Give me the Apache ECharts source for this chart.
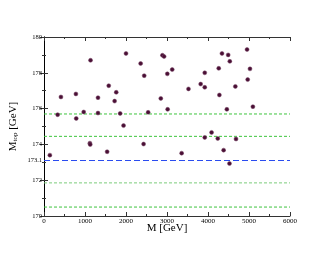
<!DOCTYPE html>
<html>
<head>
<meta charset="utf-8">
<script src="https://cdn.jsdelivr.net/npm/echarts@6/dist/echarts.min.js"></script>
<style>html,body{margin:0;padding:0;background:#fff}#c{width:327px;height:253px}</style>
</head>
<body>
<div id="c"></div>
<script>
const massM = [143,333,413,778,786,968,1119,1127,1135,1317,1317,1540,1579,1722,1762,1857,1940,2000,2357,2429,2444,2540,2849,2889,2929,3008,3016,3127,3357,3524,3821,3921,3921,3921,4087,4238,4262,4278,4341,4381,4460,4492,4524,4532,4667,4683,4952,4968,5024,5095];
const massTop = [173.40,175.66,176.65,176.82,175.45,175.81,174.07,173.99,178.70,176.61,175.75,173.59,177.28,176.42,176.91,175.73,175.05,179.08,178.52,174.02,177.84,175.79,176.57,178.98,178.91,177.94,175.96,178.18,173.51,177.10,177.37,178.00,177.19,174.39,174.67,174.33,178.25,176.76,179.08,173.68,175.96,179.00,172.93,178.64,177.24,174.30,179.30,177.62,178.22,176.11];
const centralValue = 173.1;
const greenLines = [175.7, 174.45, 170.5];
const paleGreenLines = [171.85];
const xRange = [0, 6000];
const yTickLabels = [170, 172, 173.1, 174, 176, 178, 180];
const xTickLabels = [0, 1000, 2000, 3000, 4000, 5000, 6000];

const points = massM.map((m, i) => [m, massTop[i]]);
const serif = '"Liberation Serif","DejaVu Serif",serif';
const axisCol = '#333';

function hLine(v, color, dash, width) {
  return {
    type: 'line', xAxisIndex: 0, yAxisIndex: 0, silent: true,
    data: xRange.map(x => [x, v]), symbol: 'none',
    lineStyle: {color: color, type: dash, width: width, opacity: 1},
    emphasis: {disabled: true}, z: 2
  };
}

const lineSeries = [];
greenLines.forEach(v => lineSeries.push(hLine(v, '#3ec43e', [3, 2], 1)));
paleGreenLines.forEach(v => lineSeries.push(hLine(v, '#7ccc7c', [3, 2], 1)));
lineSeries.push(hLine(centralValue, '#2a4cf0', [6, 3], 1.2));

const chart = echarts.init(document.getElementById('c'), null, {renderer: 'canvas'});
chart.setOption({
  animation: false,
  backgroundColor: '#fff',
  grid: {left: 38, right: 37, top: 37, bottom: 37, containLabel: false},
  xAxis: [{
    type: 'value', min: 0, max: 6000, interval: 1000, position: 'bottom',
    name: 'M [GeV]', nameLocation: 'middle', nameGap: 7, nameMoveOverlap: false,
    nameTextStyle: {fontFamily: serif, fontSize: 11, color: '#000'},
    axisLine: {lineStyle: {color: axisCol, width: 1}},
    axisTick: {inside: true, length: 4, lineStyle: {color: axisCol}},
    minorTick: {show: true, splitNumber: 2, length: 2, lineStyle: {color: axisCol}},
    axisLabel: {margin: 2, fontFamily: serif, fontSize: 7, color: '#000',
      customValues: xTickLabels, formatter: v => String(v)},
    splitLine: {show: false}
  }, {
    type: 'value', min: 0, max: 6000, interval: 1000, position: 'top',
    axisLine: {lineStyle: {color: axisCol, width: 1}},
    axisTick: {inside: true, length: 4, lineStyle: {color: axisCol}},
    minorTick: {show: true, splitNumber: 2, length: 2, lineStyle: {color: axisCol}},
    axisLabel: {show: false}, splitLine: {show: false}
  }],
  yAxis: [{
    type: 'value', min: 170, max: 180, interval: 2, position: 'left',
    name: 'M{s|top} [GeV]', nameLocation: 'middle', nameGap: 25, nameRotate: 90, nameMoveOverlap: false,
    nameTextStyle: {fontFamily: serif, fontSize: 11, color: '#000',
      rich: {s: {fontFamily: serif, fontSize: 7, verticalAlign: 'bottom', padding: [4, 0, 0, 0]}}},
    axisLine: {lineStyle: {color: axisCol, width: 1}},
    axisTick: {inside: true, length: 4, lineStyle: {color: axisCol}},
    minorTick: {show: true, splitNumber: 2, length: 2, lineStyle: {color: axisCol}},
    axisLabel: {margin: 2, fontFamily: serif, fontSize: 6.5, color: '#000',
      customValues: yTickLabels, formatter: v => String(v)},
    splitLine: {show: false}
  }, {
    type: 'value', min: 170, max: 180, interval: 2, position: 'right',
    axisLine: {lineStyle: {color: '#000', width: 1}},
    axisTick: {inside: true, length: 4, lineStyle: {color: axisCol}},
    minorTick: {show: true, splitNumber: 2, length: 2, lineStyle: {color: axisCol}},
    axisLabel: {show: false}, splitLine: {show: false}
  }],
  series: lineSeries.concat([{
    type: 'scatter', xAxisIndex: 0, yAxisIndex: 0,
    data: points, symbol: 'circle', symbolSize: 4,
    itemStyle: {color: '#4a0f35', borderColor: '#7a4a68', borderWidth: 0.5, opacity: 1},
    z: 5
  }])
});
</script>
</body>
</html>
